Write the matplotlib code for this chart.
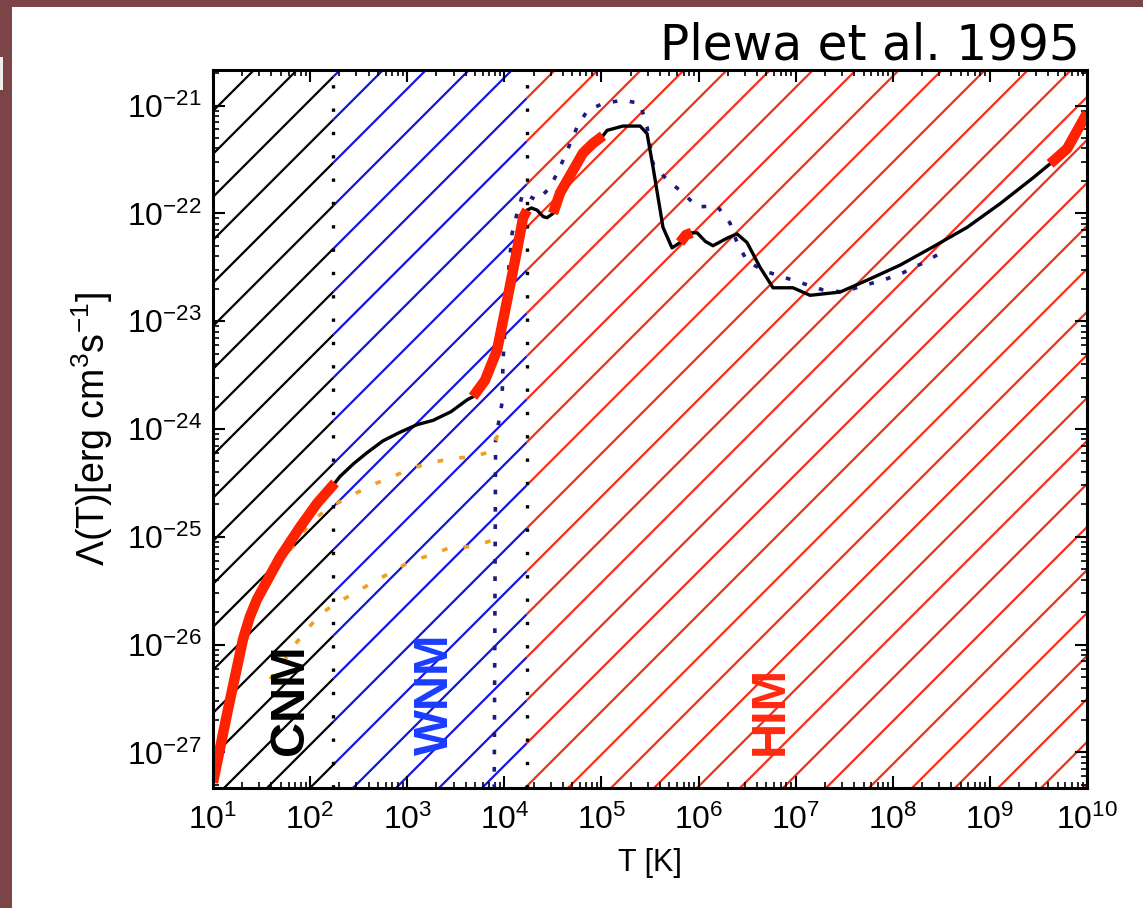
import numpy as np
import matplotlib
matplotlib.use("Agg")
import matplotlib.pyplot as plt
from matplotlib.ticker import FixedLocator, NullFormatter, LogFormatterSciNotation
from matplotlib.patches import Rectangle
from matplotlib.collections import LineCollection

# ---------------- data (log10 values) ----------------
main_logT = [1.00, 1.15, 1.309, 1.38, 1.453, 1.556, 1.69, 1.896, 2.071, 2.256,
             2.308, 2.45, 2.586, 2.75, 2.926, 3.10, 3.266, 3.45, 3.616, 3.678,
             3.80, 3.925, 4.028, 4.131, 4.193, 4.234, 4.28, 4.337, 4.40, 4.44,
             4.502, 4.574, 4.708, 4.81, 4.913, 5.016, 5.058, 5.222, 5.398, 5.47,
             5.531, 5.634, 5.727, 5.81, 5.87, 5.93, 5.985, 6.07, 6.149, 6.293,
             6.396, 6.499, 6.633, 6.767, 6.973, 7.148, 7.354, 7.457, 7.735, 8.075,
             8.415, 8.765, 9.105, 9.445, 9.62, 9.795, 10.0]
main_logL = [-27.28, -26.62, -25.95, -25.74, -25.58, -25.41, -25.19, -24.91, -24.69, -24.50,
             -24.44, -24.32, -24.22, -24.11, -24.03, -23.96, -23.92, -23.84, -23.73, -23.70,
             -23.55, -23.27, -22.81, -22.34, -22.04, -21.97, -21.95, -21.97, -22.03, -22.04,
             -22.00, -21.81, -21.60, -21.44, -21.35, -21.28, -21.23, -21.19, -21.19, -21.26,
             -21.57, -22.13, -22.32, -22.27, -22.20, -22.18, -22.18, -22.26, -22.30, -22.23,
             -22.19, -22.27, -22.50, -22.69, -22.69, -22.76, -22.74, -22.73, -22.62, -22.48,
             -22.31, -22.13, -21.91, -21.67, -21.54, -21.40, -21.07]
highlight_ranges = [(1.00, 2.256), (3.678, 4.234), (4.502, 5.016), (5.81, 5.93), (9.62, 10.0)]

plewa_logT = [3.895, 3.91, 3.976, 3.987, 4.038, 4.079, 4.131, 4.193, 4.337, 4.471,
              4.574, 4.646, 4.749, 4.852, 5.016, 5.222, 5.398, 5.47, 5.531, 5.676,
              5.84, 5.985, 6.19, 6.324, 6.396, 6.499, 6.664, 6.87, 7.076, 7.282,
              7.488, 7.694, 7.90, 8.106, 8.312, 8.487]
plewa_logL = [-27.5, -24.10, -23.76, -23.36, -22.59, -22.19, -22.00, -21.81, -21.88, -21.76,
              -21.57, -21.42, -21.20, -21.05, -20.98, -20.95, -20.98, -21.20, -21.54, -21.69,
              -21.81, -21.94, -21.93, -22.09, -22.27, -22.44, -22.53, -22.59, -22.65, -22.71,
              -22.73, -22.67, -22.62, -22.55, -22.46, -22.37]

orange_up_logT = [1.793, 1.896, 2.030, 2.256, 2.483, 2.689, 2.854, 3.060, 3.266, 3.472,
                  3.678, 3.853, 3.956]
orange_up_logL = [-25.12, -25.00, -24.84, -24.70, -24.59, -24.50, -24.44, -24.36, -24.31, -24.27,
                  -24.26, -24.21, -24.01]
orange_lo_logT = [1.587, 1.721, 1.824, 1.968, 2.102, 2.277, 2.483, 2.648, 2.854, 3.029,
                  3.235, 3.441, 3.678, 3.884]
orange_lo_logL = [-26.32, -26.17, -26.02, -25.86, -25.72, -25.61, -25.51, -25.42, -25.32, -25.23,
                  -25.17, -25.10, -25.09, -25.03]

phase_bounds_logT = [2.24, 4.23]
phase_labels = ["CNM", "WNM", "HIM"]
phase_label_logT = [1.80, 3.29, 6.74]
phase_label_logL = -27.02
phase_colors = ["black", "#1414e0", "#f2301a"]
phase_text_colors = ["black", "#1a3cff", "#ff2a10"]

x_logmin, x_logmax = 1.0, 10.0
y_logmin, y_logmax = -27.33, -20.67
x_major_exp = list(range(1, 11))
y_major_exp = list(range(-27, -20))

# ---------------- style ----------------
plt.rcParams["font.family"] = ["Liberation Sans", "DejaVu Sans"]
plt.rcParams["mathtext.fontset"] = "custom"
plt.rcParams["mathtext.rm"] = "Liberation Sans"
plt.rcParams["mathtext.it"] = "Liberation Sans:italic"
plt.rcParams["mathtext.bf"] = "Liberation Sans:bold"
plt.rcParams["mathtext.sf"] = "Liberation Sans"

FW, FH = 1143, 908
fig = plt.figure(figsize=(FW / 100, FH / 100), dpi=100)
fig.patch.set_facecolor("#7b4547")
fig.add_artist(Rectangle((12 / FW, 0), 1 - 12 / FW, 1 - 7 / FH, transform=fig.transFigure,
                         facecolor="white", edgecolor="none", zorder=0))
fig.add_artist(Rectangle((0, 1 - 90 / FH), 3 / FW, 33 / FH, transform=fig.transFigure,
                         facecolor="#f0eeee", edgecolor="none", zorder=0))

AX_L, AX_B, AX_W, AX_H = 213, 120, 874, 718
ax = fig.add_axes([AX_L / FW, AX_B / FH, AX_W / FW, AX_H / FH])
ax.set_facecolor("none")
ax.set_xscale("log")
ax.set_yscale("log")
ax.set_xlim(10 ** x_logmin, 10 ** x_logmax)
ax.set_ylim(10 ** y_logmin, 10 ** y_logmax)

# hatching (45 degree lines, coloured per phase region)
spacing, phase0 = 43, 32
bounds = [0.0] + [(b - x_logmin) / (x_logmax - x_logmin) for b in phase_bounds_logT] + [1.0]
for i, col in enumerate(phase_colors):
    xa, xb = bounds[i] * AX_W, bounds[i + 1] * AX_W
    segs = []
    k0 = int(np.floor((-AX_W - phase0) / spacing))
    k1 = int(np.ceil((AX_H - phase0) / spacing))
    for k in range(k0, k1 + 1):
        c = phase0 + spacing * k
        segs.append([(xa / AX_W, (xa + c) / AX_H), (xb / AX_W, (xb + c) / AX_H)])
    lc = LineCollection(segs, colors=col, linewidths=1.6, transform=ax.transAxes, zorder=1)
    ax.add_collection(lc)

# phase boundaries
for b in phase_bounds_logT:
    ax.axvline(10 ** b, color="black", lw=2.4, ls=(0, (1, 6)), zorder=3)

T = 10 ** np.array(main_logT)
L = 10 ** np.array(main_logL)
ax.plot(T, L, color="black", lw=2.4, zorder=5, solid_capstyle="round", solid_joinstyle="round")
for lo, hi in highlight_ranges:
    m = (np.array(main_logT) >= lo - 1e-9) & (np.array(main_logT) <= hi + 1e-9)
    ax.plot(T[m], L[m], color="#ff2200", lw=7.5, zorder=6, solid_capstyle="butt",
            solid_joinstyle="round")

ax.plot(10 ** np.array(plewa_logT), 10 ** np.array(plewa_logL), color="#1c1c80",
        lw=2.6, ls=(0, (1.3, 3.5)), zorder=4)
ax.plot(10 ** np.array(orange_up_logT), 10 ** np.array(orange_up_logL), color="#f0a020",
        lw=2.6, ls=(0, (1.6, 4.5)), zorder=4)
ax.plot(10 ** np.array(orange_lo_logT), 10 ** np.array(orange_lo_logL), color="#f0a020",
        lw=2.6, ls=(0, (1.6, 4.5)), zorder=4)

for lab, lx, col in zip(phase_labels, phase_label_logT, phase_text_colors):
    ax.text(10 ** lx, 10 ** phase_label_logL, lab, rotation=90, ha="center", va="bottom",
            fontsize=35, fontweight="bold", color=col, zorder=7)

# axes styling
for s in ax.spines.values():
    s.set_linewidth(2.2)
    s.set_zorder(8)


def minor_positions(lo, hi):
    vals = []
    for e in range(int(np.floor(lo)), int(np.ceil(hi)) + 1):
        for m in range(2, 10):
            v = m * 10.0 ** e
            if 10 ** lo < v < 10 ** hi:
                vals.append(v)
    return vals


ax.xaxis.set_major_locator(FixedLocator([10.0 ** e for e in x_major_exp]))
ax.yaxis.set_major_locator(FixedLocator([10.0 ** e for e in y_major_exp]))
ax.xaxis.set_minor_locator(FixedLocator(minor_positions(x_logmin, x_logmax)))
ax.yaxis.set_minor_locator(FixedLocator(minor_positions(y_logmin, y_logmax)))
for axis in (ax.xaxis, ax.yaxis):
    axis.set_minor_formatter(NullFormatter())
    axis.set_major_formatter(LogFormatterSciNotation())
ax.tick_params(which="both", direction="in", top=True, right=True)
ax.tick_params(which="minor", labelleft=False, labelbottom=False)
ax.tick_params(which="major", length=8.5, width=1.5)
ax.tick_params(which="minor", length=4.5, width=1.2)
ax.tick_params(axis="x", which="major", labelsize=23, pad=12)
ax.tick_params(axis="y", which="major", labelsize=23, pad=8)

ax.set_xlabel("T [K]", fontsize=22)
ax.xaxis.set_label_coords(0.5, -0.083)
ax.set_ylabel("Λ(T)[erg cm$^3$s$^{-1}$]", fontsize=27)
ax.yaxis.set_label_coords(-0.112, 0.5)

fig.text(1080 / FW, 1 - 60 / FH, "Plewa et al. 1995", ha="right", va="baseline",
         fontsize=35, family=["DejaVu Sans"], color="black")

fig.savefig("out.png", dpi=100, facecolor=fig.get_facecolor())
